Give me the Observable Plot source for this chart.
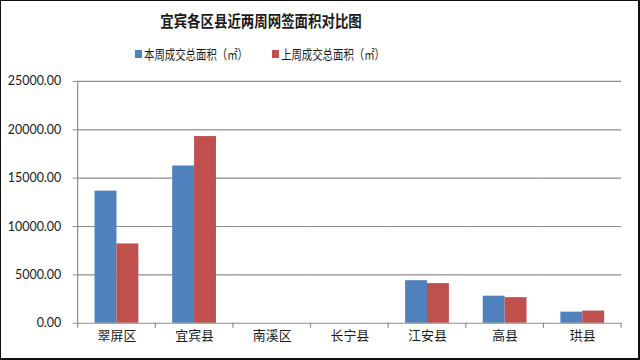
<!DOCTYPE html>
<html>
<head>
<meta charset="utf-8">
<script src="https://cdn.jsdelivr.net/npm/d3@7"></script>
<script src="https://cdn.jsdelivr.net/npm/@observablehq/plot@0.6"></script>
<style>
  html, body { margin: 0; padding: 0; background: #fff; }
  #wrap {
    position: relative; width: 640px; height: 360px; box-sizing: border-box;
    border: 1px solid #111; border-right-width: 2px; border-bottom-width: 2px;
    background: #fff; overflow: hidden;
    font-family: "Noto Sans CJK SC", "Noto Sans", sans-serif;
  }
  #title {
    position: absolute; left: 0; width: 519px; top: 9px; text-align: center;
    font-size: 14px; font-weight: bold; color: #1a1a1a;
  }
  #title span { display: inline-block; transform: scale(0.96, 1.1); }
  .leg { position: absolute; top: 43px; font-size: 13px; color: #1a1a1a; white-space: nowrap; }
  .leg i { position: absolute; width: 7px; height: 8px; top: 6px; }
  .leg span { position: absolute; left: 9px; top: 0; transform-origin: 0 0; transform: scaleX(0.8); }
  #chart { position: absolute; left: -1px; top: 61px; }
</style>
</head>
<body>
<div id="wrap">
  <div id="title"></div>
  <div class="leg" id="leg0" style="left:134px"></div>
  <div class="leg" id="leg1" style="left:271px"></div>
  <div id="chart"></div>
</div>
<script>
const title = "宜宾各区县近两周网签面积对比图";
const categories = ["翠屏区", "宜宾县", "南溪区", "长宁县", "江安县", "高县", "珙县"];
const seriesNames = ["本周成交总面积（㎡）", "上周成交总面积（㎡）"];
const thisWeek = [13660, 16260, 0, 0, 4400, 2800, 1150];
const lastWeek = [8200, 19300, 0, 0, 4100, 2650, 1260];
const yTicks = [0, 5000, 10000, 15000, 20000, 25000];
const colors = ["#4F81BD", "#C0504D"];

document.getElementById("title").innerHTML = "<span></span>";
document.querySelector("#title span").textContent = title;
seriesNames.forEach((s, i) => {
  const el = document.getElementById("leg" + i);
  el.innerHTML = `<i style="background:${colors[i]}"></i><span></span>`;
  el.querySelector("span").textContent = s;
});

const data = [];
categories.forEach((c, i) => {
  data.push({cat: c, series: seriesNames[0], value: thisWeek[i]});
  data.push({cat: c, series: seriesNames[1], value: lastWeek[i]});
});

const chart = Plot.plot({
  width: 641,
  height: 297,
  marginLeft: 76,
  marginRight: 16,
  marginTop: 19,
  marginBottom: 35,
  style: {fontFamily: "Lato, 'Noto Sans', sans-serif", fontSize: "12px", color: "#1a1a1a", background: "transparent"},
  fx: {domain: categories, padding: 0, label: null},
  x: {domain: seriesNames, paddingInner: 0, paddingOuter: 0.75, axis: null},
  y: {domain: [0, 25000], label: null},
  color: {domain: seriesNames, range: colors},
  marks: [
    Plot.ruleY(yTicks.slice(1), {stroke: "#8c8c8c", strokeWidth: 1.2}),
    Plot.barY(data, {fx: "cat", x: "series", y: "value", fill: "series"}),
    Plot.ruleY([0], {stroke: "#8c8c8c", strokeWidth: 1.2}),
    Plot.axisY({ticks: yTicks, tickFormat: d3.format(".2f"), tickSize: 5, tickPadding: 12, stroke: "#8c8c8c", fill: "#1a1a1a", label: null, fontSize: 12.5}),
    Plot.axisFx({anchor: "bottom", tickSize: 0, tickPadding: 8, label: null, fontSize: 13, fontFamily: "'Noto Sans CJK SC', sans-serif", fill: "#1a1a1a"})
  ]
});
document.getElementById("chart").append(chart);

// y-axis line and category boundary ticks, positioned from Plot's own scales
const fx = chart.scale("fx");
const y = chart.scale("y");
const svg = d3.select(chart);
const y0 = y.apply(0), yTop = y.apply(25000);
const boundaries = categories.map(c => fx.apply(c));
boundaries.push(fx.apply(categories[categories.length - 1]) + fx.bandwidth);
const g = svg.append("g").attr("stroke", "#8c8c8c").attr("stroke-width", 1.2);
g.append("line").attr("x1", boundaries[0]).attr("x2", boundaries[0]).attr("y1", yTop).attr("y2", y0 + 5);
boundaries.slice(1).forEach(b => {
  g.append("line").attr("x1", b).attr("x2", b).attr("y1", y0).attr("y2", y0 + 5);
});
</script>
</body>
</html>
